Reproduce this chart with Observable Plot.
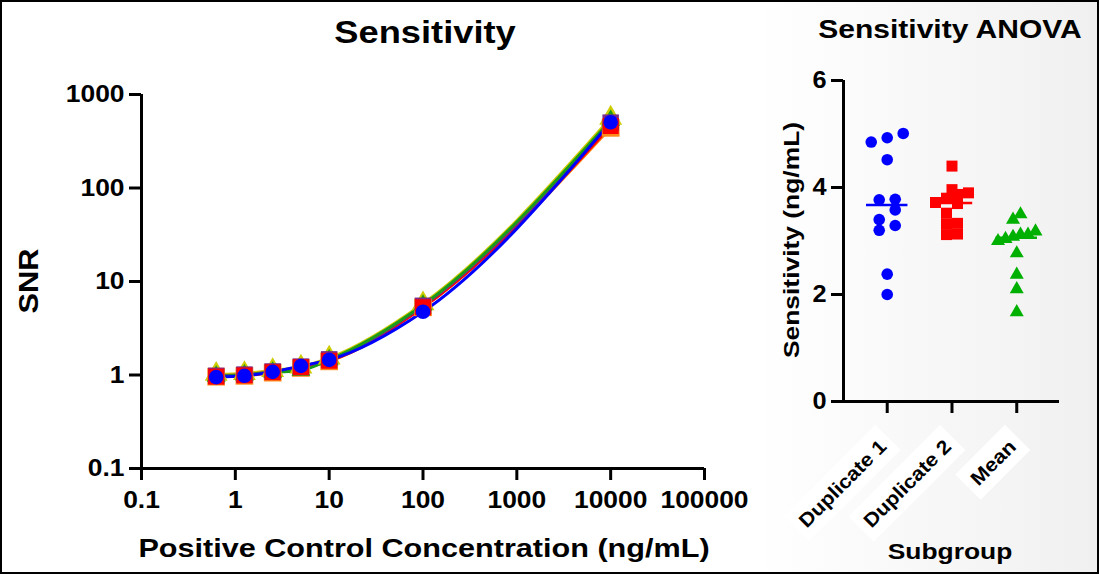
<!DOCTYPE html>
<html><head><meta charset="utf-8">
<script src="https://cdn.jsdelivr.net/npm/d3@7"></script>
<script src="https://cdn.jsdelivr.net/npm/@observablehq/plot@0.6"></script>
<style>
body{margin:0;background:#fff;}
#wrap{position:relative;width:1099px;height:574px;overflow:hidden;font-family:"Liberation Sans",Arial,sans-serif;font-weight:bold;color:#000;background:#fff;}
#bg{position:absolute;left:760px;top:0;width:339px;height:574px;background:linear-gradient(to right,#ffffff,#f0f0f0);}
#frame{position:absolute;left:0;top:0;width:1099px;height:574px;box-sizing:border-box;border:2px solid #000;pointer-events:none;}
.lbl{position:absolute;white-space:nowrap;font-weight:bold;line-height:1;transform-origin:center center;}
#left,#right{position:absolute;top:0;}
#left{left:0;} #right{left:760px;}
svg{overflow:visible;}
</style></head>
<body>
<div id="wrap">
  <div id="bg"></div>
  <div id="left"></div>
  <div id="right"></div>
  <div class="lbl" id="t1" style="left:425px;top:32px;font-size:31px;transform:translate(-50%,-50%) scaleX(1.17)">Sensitivity</div>
  <div class="lbl" id="t2" style="left:950px;top:29px;font-size:25px;transform:translate(-50%,-50%) scaleX(1.2)">Sensitivity ANOVA</div>
  <div class="lbl" id="ly" style="left:29px;top:281px;font-size:28px;transform:translate(-50%,-50%) rotate(-90deg) scaleX(1.1)">SNR</div>
  <div class="lbl" id="lx" style="left:424px;top:549px;font-size:25.5px;transform:translate(-50%,-50%) scaleX(1.2)">Positive Control Concentration (ng/mL)</div>
  <div class="lbl" id="ry" style="left:792px;top:240px;font-size:22px;transform:translate(-50%,-50%) rotate(-90deg) scaleX(1.2)">Sensitivity (ng/mL)</div>
  <div class="lbl" id="rx" style="left:950px;top:552px;font-size:22px;transform:translate(-50%,-50%) scaleX(1.2)">Subgroup</div>
  <div id="frame"></div>
</div>
<script>
// ---------- Left panel data ----------
const conc = [0.625, 1.25, 2.5, 5, 10, 100, 10000];
const xTicks = [0.1, 1, 10, 100, 1000, 10000, 100000];
const yTicks = [0.1, 1, 10, 100, 1000];
const snrYellow = [1.02, 1.04, 1.12, 1.22, 1.52, 5.8, 560];
const snrOrange = [0.96, 0.98, 1.06, 1.19, 1.40, 5.3, 440];
const snrGreen  = [0.97, 1.00, 1.07, 1.12, 1.45, 5.6, 530];
const snrPurple = [0.98, 1.01, 1.09, 1.23, 1.47, 5.5, 500];
const snrRed    = [0.96, 0.99, 1.07, 1.21, 1.42, 5.3, 460];
const snrBlue   = [0.95, 0.98, 1.08, 1.25, 1.45, 4.75, 505];

// ---------- Right panel data ----------
const subgroups = ["Duplicate 1", "Duplicate 2", "Mean"];
const dup1 = [4.93, 4.85, 5.01, 4.52, 3.77, 3.78, 3.58, 3.40, 3.29, 3.20, 2.38, 2.00];
const dup2 = [4.40, 3.80, 3.90, 3.96, 3.87, 3.70, 3.72, 3.52, 3.32, 3.33, 3.12, 3.13];
const meanVals = [3.50, 3.40, 3.12, 3.00, 3.18, 3.08, 3.12, 3.04, 2.77, 2.37, 2.10, 1.67];
const sensTicks = [0, 2, 4, 6];

const FONT = '"Liberation Sans", Arial, sans-serif';
const toRows = (vals) => conc.map((c, i) => ({c, v: vals[i]}));

const series = [
  {vals: snrYellow, color: "#cccc00", symbol: "triangle", r: 8.5},
  {vals: snrOrange, color: "#ff8c1a", symbol: "square", r: 10},
  {vals: snrGreen,  color: "#1a9a1a", symbol: "triangle", r: 7},
  {vals: snrPurple, color: "#7a2a8a", symbol: "square", r: 9.3},
  {vals: snrRed,    color: "#ff0000", symbol: "square", r: 9},
  {vals: snrBlue,   color: "#0000ff", symbol: "circle", r: 7.3}
];
const lineOrder = [0, 1, 4, 3, 2, 5];

const leftMarks = [
  Plot.ruleX([0.1], {y1: 0.1, y2: 1000, strokeWidth: 3}),
  Plot.ruleY([0.1], {x1: 0.1, x2: 100000, strokeWidth: 3}),
  Plot.axisX({ticks: xTicks, tickFormat: d => String(d), tickSize: 12, tickPadding: 10, strokeWidth: 3, label: null, fontSize: 24}),
  Plot.axisY({ticks: yTicks, tickFormat: d => String(d), tickSize: 12, tickPadding: 5, strokeWidth: 3, label: null, fontSize: 24})
];
for (const k of lineOrder) {
  const s = series[k];
  leftMarks.push(Plot.line(toRows(s.vals), {x: "c", y: "v", stroke: s.color, strokeWidth: 3, curve: "monotone-x"}));
}
for (const s of series) {
  leftMarks.push(Plot.dot(toRows(s.vals), {x: "c", y: "v", fill: s.color, symbol: s.symbol, r: s.r, stroke: "none"}));
}

const left = Plot.plot({
  width: 760, height: 574,
  marginLeft: 141, marginRight: 56, marginTop: 94, marginBottom: 106,
  x: {type: "log", domain: [0.1, 100000]},
  y: {type: "log", domain: [0.1, 1000]},
  style: {fontFamily: FONT, fontWeight: "bold", fontSize: "24px", background: "transparent", color: "#000"},
  marks: leftMarks
});
document.getElementById("left").appendChild(left);

// ---------- Right panel ----------
const pxPerUnitY = 321 / 6;
const pxPerUnitX = 216 / 3.335;
function rowSwarm(vals, rowH, spacing) {
  const idx = d3.range(vals.length).sort((a, b) => vals[a] - vals[b]);
  const off = new Array(vals.length);
  let row = [];
  let start = null;
  const flush = () => {
    const n = row.length;
    row.forEach((i, j) => { off[i] = (j - (n - 1) / 2) * spacing; });
    row = [];
  };
  for (const i of idx) {
    const py = vals[i] * pxPerUnitY;
    if (start === null || py - start >= rowH) { flush(); start = py; }
    row.push(i);
  }
  flush();
  return off;
}
const groups = [
  {vals: dup1, color: "#0000ff", symbol: "circle", r: 5.8, spacing: 16},
  {vals: dup2, color: "#ff0000", symbol: "square", r: 6.2, spacing: 11},
  {vals: meanVals, color: "#00b000", symbol: "triangle", r: 5.2, spacing: 7.5}
];
const pts = [];
const medians = [];
groups.forEach((g, gi) => {
  const off = rowSwarm(g.vals, 10, g.spacing);
  g.vals.forEach((v, i) => pts.push({g: gi, x: gi + off[i] / pxPerUnitX, v}));
  medians.push({g: gi, m: d3.median(g.vals)});
});

const rightMarks = [
  Plot.ruleX([-0.675], {y1: 0, y2: 6, strokeWidth: 3}),
  Plot.ruleY([0], {x1: -0.675, x2: 2.66, strokeWidth: 3}),
  Plot.axisY({ticks: sensTicks, tickFormat: d => String(d), tickSize: 12, tickPadding: 5, strokeWidth: 3, label: null, fontSize: 23}),
  Plot.axisX({ticks: [0, 1, 2], tickFormat: () => "", tickSize: 12, strokeWidth: 3, label: null}),
  Plot.text(subgroups, {x: (d, i) => i, y: () => 0, text: d => d, rotate: -45, textAnchor: "end", dx: -4, dy: 42,
    fontSize: 19.5, fill: "#000"})
];
groups.forEach((g, gi) => {
  rightMarks.push(Plot.dot(pts.filter(p => p.g === gi), {x: "x", y: "v", fill: g.color, symbol: g.symbol, r: g.r, stroke: "none"}));
});
groups.forEach((g, gi) => {
  rightMarks.push(Plot.ruleY(medians.filter(m => m.g === gi), {y: "m", x1: d => d.g - 0.32, x2: d => d.g + 0.32, stroke: g.color, strokeWidth: 2.5}));
});

const right = Plot.plot({
  width: 339, height: 574,
  marginLeft: 83, marginRight: 40, marginTop: 80, marginBottom: 173,
  x: {type: "linear", domain: [-0.675, 2.66]},
  y: {domain: [0, 6]},
  style: {fontFamily: FONT, fontWeight: "bold", fontSize: "23px", background: "transparent", color: "#000"},
  marks: rightMarks
});
document.getElementById("right").appendChild(right);

// stretch text horizontally to match the wide lettering of the reference
const SX = 1.1;
for (const svg of [left, right]) {
  svg.querySelectorAll("text").forEach(t => {
    const tr = t.getAttribute("transform");
    if (tr) t.setAttribute("transform", tr + ` scale(${SX},1)`);
    else {
      const x = +t.getAttribute("x") || 0, y = +t.getAttribute("y") || 0;
      t.removeAttribute("x"); t.removeAttribute("y");
      t.setAttribute("transform", `translate(${x},${y}) scale(${SX},1)`);
    }
  });
}
// white boxes behind the rotated subgroup labels
right.querySelectorAll('g[aria-label="text"] text').forEach(t => {
  const b = t.getBBox();
  const pad = 7;
  const rect = document.createElementNS("http://www.w3.org/2000/svg", "rect");
  rect.setAttribute("x", b.x - pad);
  rect.setAttribute("y", b.y - pad);
  rect.setAttribute("width", b.width + 2 * pad);
  rect.setAttribute("height", b.height + 2 * pad);
  rect.setAttribute("fill", "#ffffff");
  rect.setAttribute("transform", t.getAttribute("transform"));
  t.parentNode.insertBefore(rect, t.parentNode.firstChild);
});
</script>
</body></html>
